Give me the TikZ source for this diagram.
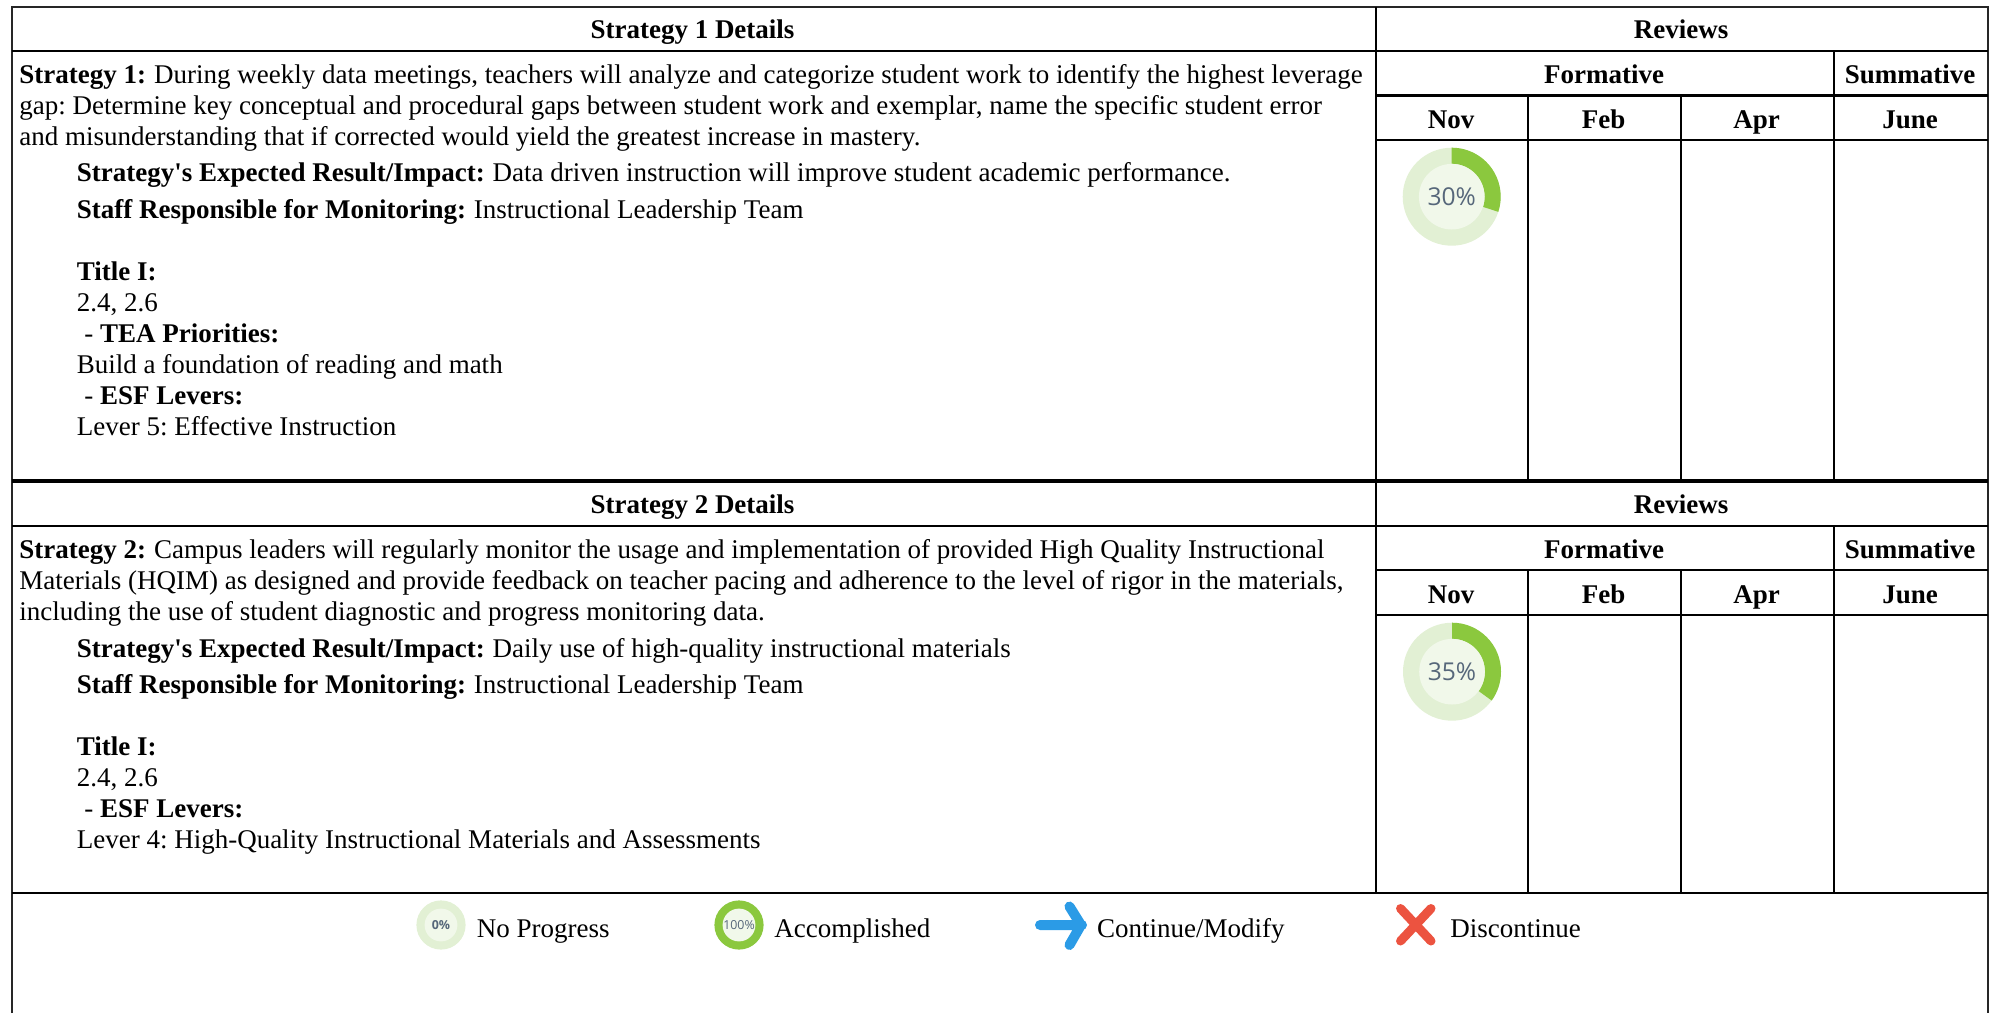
\documentclass[tikz,border=0pt]{standalone}
\usepackage{fontspec}
\setmainfont[Ligatures=TeXOff]{Liberation Serif}
\newfontfamily\donutfont{Open Sans}
\definecolor{ringlight}{HTML}{E2F0D4}
\definecolor{ringcore}{HTML}{F1F8EA}
\definecolor{ringgreen}{HTML}{8BC83E}
\definecolor{donuttext}{HTML}{56677A}
\definecolor{arrowblue}{HTML}{2B9BE6}
\definecolor{crossred}{HTML}{EC5340}
\tikzset{
  grid/.style={line width=1.15pt,black},
  framerule/.style={line width=1pt,black!85},
  heavy/.style={line width=2.1pt,black},
  txt/.style={anchor=base west,inner sep=0pt,font=\fontsize{13.5}{16}\selectfont},
  hdr/.style={anchor=base,inner sep=0pt,font=\fontsize{13.5}{16}\selectfont\bfseries},
  dlabel/.style={inner sep=0pt,text=donuttext},
}
\newcommand{\gapk}{\kern0.6pt\ }
\newcommand{\donut}[3]{% centre x, centre y, percent
  \fill[ringlight] (#1,#2) circle[radius=24.5pt];
  \pgfmathsetmacro{\endang}{90-3.6*#3}
  \fill[ringgreen] (#1,#2) ++(90:24.5pt) arc[start angle=90,end angle=\endang,radius=24.5pt] -- ++(\endang+180:8pt) arc[start angle=\endang,end angle=90,radius=16.5pt] -- cycle;
  \fill[ringcore] (#1,#2) circle[radius=16.4pt];
}
\begin{document}
\frenchspacing
\begin{tikzpicture}[x=0.5pt,y=-0.5pt]
\useasboundingbox (0,0) rectangle (1997,1013);
% frame and grid
\draw[framerule] (11.5,1013) -- (11.5,6.5) -- (1988.3,6.5) -- (1988.3,1013);
\draw[grid] (11.5,51) -- (1988.3,51);
\draw[heavy] (11.5,480.7) -- (1988.3,480.7);
\draw[grid] (11.5,525.7) -- (1988.3,525.7);
\draw[grid] (11.5,893) -- (1988.3,893);
\draw[grid] (1375.7,6.5) -- (1375.7,893);
\draw[grid] (1375.7,95.5) -- (1988.3,95.5);
\draw[grid] (1375.7,140) -- (1988.3,140);
\draw[grid] (1375.7,570) -- (1988.3,570);
\draw[grid] (1375.7,615) -- (1988.3,615);
\draw[grid] (1834,51) -- (1834,480.7);
\draw[grid] (1528,95.5) -- (1528,480.7);
\draw[grid] (1681,95.5) -- (1681,480.7);
\draw[grid] (1834,525.7) -- (1834,893);
\draw[grid] (1528,570) -- (1528,893);
\draw[grid] (1681,570) -- (1681,893);
% block 1
\node[hdr] (h1) at (692.5,38.3) {Strategy 1 Details};
\node[hdr] (r1) at (1681,38.3) {Reviews};
\node[hdr] (f1) at (1604,83.7) {Formative};
\node[hdr] (u1) at (1910,83.7) {Summative};
\node[hdr] (m1a) at (1451,128.7) {Nov};
\node[hdr] (m1b) at (1603.5,128.7) {Feb};
\node[hdr] (m1c) at (1756.5,128.7) {Apr};
\node[hdr] (m1d) at (1910,128.7) {June};
\node[txt] (a1) at (19,83) {\textbf{Strategy 1:}\gapk During weekly data meetings, teachers will analyze and categorize student work to identify the highest leverage};
\node[txt] (a2) at (19,114.3) {gap: Determine key conceptual and procedural gaps between student work and exemplar, name the specific student error};
\node[txt] (a3) at (19,145.5) {and misunderstanding that if corrected would yield the greatest increase in mastery.};
\node[txt] (a4) at (76.4,181.6) {\textbf{Strategy's Expected Result/Impact:}\gapk Data driven instruction will improve student academic performance.};
\node[txt] (a5) at (76.4,218.8) {\textbf{Staff Responsible for Monitoring:}\gapk Instructional Leadership Team};
\node[txt] (a6) at (76.4,280.9) {\textbf{Title I:}};
\node[txt] (a7) at (76.4,311.9) {2.4, 2.6};
\node[txt] (a8) at (84,342.9) {- \textbf{TEA Priorities:}};
\node[txt] (a9) at (76.4,373.9) {Build a foundation of reading and math};
\node[txt] (a10) at (84,404.6) {- \textbf{ESF Levers:}};
\node[txt] (a11) at (76.4,435.3) {Lever 5: Effective Instruction};
% block 2
\node[hdr] (h2) at (692.5,513.3) {Strategy 2 Details};
\node[hdr] (r2) at (1681,513.3) {Reviews};
\node[hdr] (f2) at (1604,558.7) {Formative};
\node[hdr] (u2) at (1910,558.7) {Summative};
\node[hdr] (m2a) at (1451,603.7) {Nov};
\node[hdr] (m2b) at (1603.5,603.7) {Feb};
\node[hdr] (m2c) at (1756.5,603.7) {Apr};
\node[hdr] (m2d) at (1910,603.7) {June};
\node[txt] (b1) at (19,558) {\textbf{Strategy 2:}\gapk Campus leaders will regularly monitor the usage and implementation of provided High Quality Instructional};
\node[txt] (b2) at (19,589.8) {Materials (HQIM) as designed and provide feedback on teacher pacing and adherence to the level of rigor in the materials,};
\node[txt] (b3) at (19,620.5) {including the use of student diagnostic and progress monitoring data.};
\node[txt] (b4) at (76.4,657.2) {\textbf{Strategy's Expected Result/Impact:}\gapk Daily use of high-quality instructional materials};
\node[txt] (b5) at (76.4,693.8) {\textbf{Staff Responsible for Monitoring:}\gapk Instructional Leadership Team};
\node[txt] (b6) at (76.4,755.9) {\textbf{Title I:}};
\node[txt] (b7) at (76.4,786.9) {2.4, 2.6};
\node[txt] (b8) at (84,817.9) {- \textbf{ESF Levers:}};
\node[txt] (b9) at (76.4,848.9) {Lever 4: High-Quality Instructional Materials and Assessments};
% progress donuts
\donut{1451.7}{196.7}{30}
\node[dlabel,font=\donutfont\fontsize{12.3}{14}\selectfont] (d1) at (1451.7,196.7) {30\%};
\donut{1452}{671.7}{35}
\node[dlabel,font=\donutfont\fontsize{12.3}{14}\selectfont] (d2) at (1452,671.7) {35\%};
% legend
\fill[ringlight] (441,925) circle[radius=12.3pt];
\fill[ringcore] (441,925) circle[radius=8.2pt];
\node[dlabel,font=\donutfont\fontsize{6.2}{7}\selectfont\bfseries] (l0) at (441,925) {0\%};
\node[txt] (t0) at (476.5,937) {No Progress};
\fill[ringgreen] (739,925) circle[radius=12.3pt];
\fill[ringcore] (739,925) circle[radius=8.2pt];
\node[dlabel,font=\donutfont\fontsize{6.2}{7}\selectfont] (l1) at (739,925) {100\%};
\node[txt] (t1) at (774,937) {Accomplished};
\draw[arrowblue,line width=5pt,line cap=round,line join=round] (1040,925) -- (1082,925) (1069.5,906.5) -- (1081,925) -- (1069.5,945);
\node[txt] (t2) at (1096.8,937) {Continue/Modify};
\draw[crossred,line width=4.5pt,line cap=round] (1400.5,908.5) -- (1431,941) (1431,908.5) -- (1400.5,941);
\node[txt] (t3) at (1450,937) {Discontinue};
\end{tikzpicture}
\end{document}
